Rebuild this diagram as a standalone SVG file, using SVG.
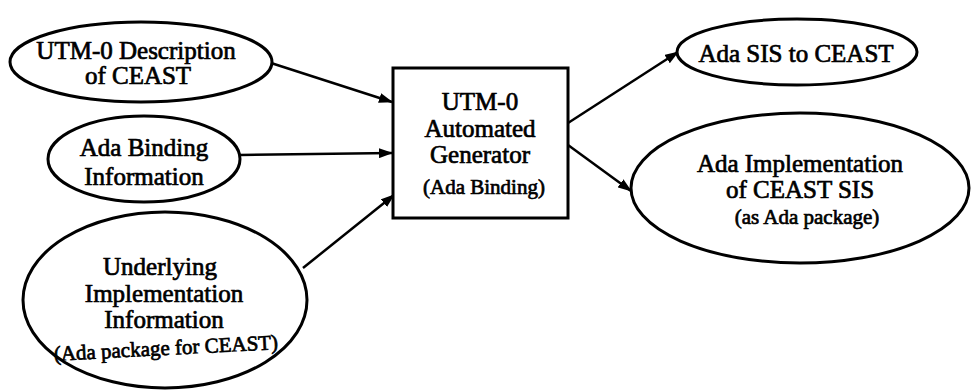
<svg xmlns="http://www.w3.org/2000/svg" width="972" height="390" viewBox="0 0 972 390">
<defs>
<style>
.shape{fill:#fff;stroke:#000;stroke-width:3}
.t{font-family:"Liberation Serif","Times New Roman",serif;font-size:25px;fill:#000;stroke:#000;stroke-width:0.7;text-anchor:middle}
.s{font-size:21px}
.edge{stroke:#000;stroke-width:2.5;fill:none;marker-end:url(#arr)}
</style>
<marker id="arr" viewBox="0 0 14 10" refX="13" refY="5" markerWidth="14" markerHeight="10" markerUnits="userSpaceOnUse" orient="auto">
<path d="M0,0 L14,5 L0,10 Z" fill="#000"/>
</marker>
</defs>
<rect width="972" height="390" fill="#fff"/>
<g id="connectors">
<line class="edge" x1="271" y1="63" x2="392" y2="102"/>
<line class="edge" x1="240" y1="155" x2="392" y2="153"/>
<line class="edge" x1="303" y1="268" x2="394" y2="195"/>
<line class="edge" x1="568" y1="123" x2="678" y2="52"/>
<line class="edge" x1="568" y1="145" x2="631" y2="191"/>
</g>
<g id="utm0-description">
<ellipse class="shape" cx="141" cy="62" rx="131" ry="40"/>
<text class="t" x="136" y="59">UTM-0 Description</text>
<text class="t" x="138" y="84">of CEAST</text>
</g>
<g id="ada-binding-info">
<ellipse class="shape" cx="144" cy="159" rx="96" ry="43"/>
<text class="t" x="144" y="156">Ada Binding</text>
<text class="t" x="144" y="185">Information</text>
</g>
<g id="underlying-impl">
<ellipse class="shape" cx="165" cy="300" rx="142" ry="88"/>
<text class="t" x="160" y="275">Underlying</text>
<text class="t" x="164" y="302">Implementation</text>
<text class="t" x="164" y="328">Information</text>
<text class="t s" x="166" y="355" transform="rotate(-3 166 350)">(Ada package for CEAST)</text>
</g>
<g id="generator">
<rect class="shape" x="393" y="68" width="175" height="150"/>
<text class="t" x="480" y="110">UTM-0</text>
<text class="t" x="480" y="137">Automated</text>
<text class="t" x="480" y="163">Generator</text>
<text class="t s" x="484" y="194">(Ada Binding)</text>
</g>
<g id="ada-sis">
<ellipse class="shape" cx="797" cy="52" rx="120" ry="33"/>
<text class="t" x="796" y="62">Ada SIS to CEAST</text>
</g>
<g id="ada-impl">
<ellipse class="shape" cx="800" cy="188" rx="169" ry="75"/>
<text class="t" x="800" y="172">Ada Implementation</text>
<text class="t" x="800" y="198">of CEAST SIS</text>
<text class="t s" x="807" y="224">(as Ada package)</text>
</g>
</svg>
